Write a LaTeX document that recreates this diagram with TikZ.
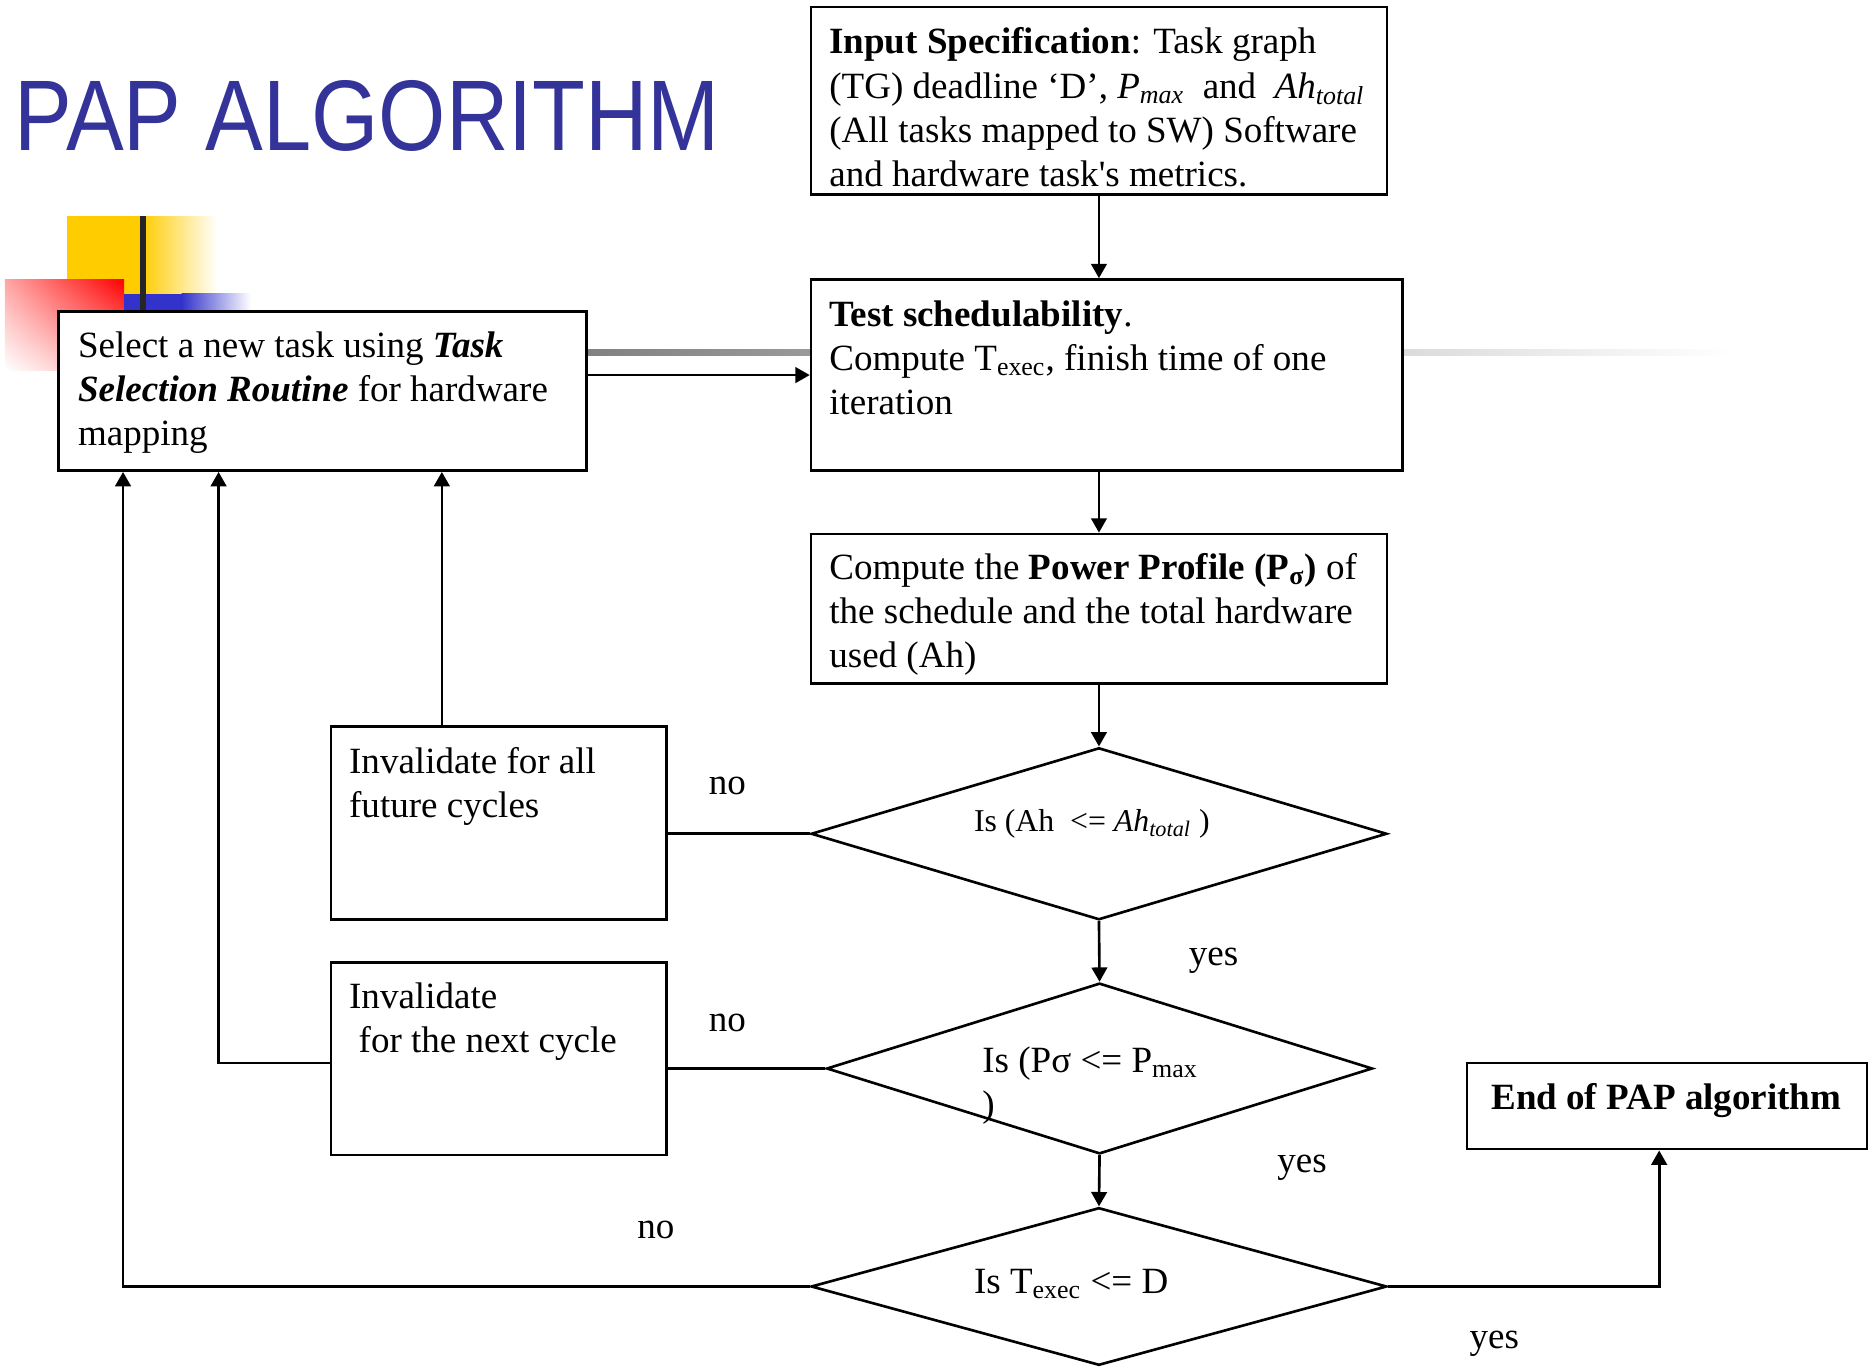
\documentclass[tikz,border=0pt]{standalone}
\usepackage{graphicx}
\usepackage{fontspec}
\setmainfont{Liberation Serif}
\newfontfamily\titlefont{Liberation Sans}
\usetikzlibrary{arrows.meta,shapes.geometric,calc,shadings}
\definecolor{titleblue}{RGB}{51,51,153}
\definecolor{decoyellow}{RGB}{255,204,0}
\definecolor{decoblue}{RGB}{51,51,204}
\tikzset{
  box/.style={draw, rectangle, line width=1.1pt, fill=white, inner sep=0pt},
  dia/.style={draw, diamond, line width=1.1pt, fill=white, inner sep=0pt},
  txt/.style={anchor=north west, inner sep=0pt, align=left},
  lbl/.style={inner sep=0pt},
  conn/.style={line width=1.1pt},
  arr/.style={line width=1.1pt, -{Triangle[length=6pt,width=6.5pt]}}
}
\begin{document}
\begin{tikzpicture}[x=0.5pt, y=-0.5pt, font=\fontsize{15.5}{18.5}\selectfont]
\useasboundingbox (0,0) rectangle (1568,1144);

% slide decoration
\fill[decoyellow] (56,181) rectangle (118,246);
\shade[left color=decoyellow, right color=white] (118,181) rectangle (182,246);
\shade[upper right=red, upper left=red!35, lower right=red!35, lower left=white] (4,234) rectangle (104,310);
\fill[decoblue] (104,246) rectangle (152,261);
\shade[left color=decoblue, right color=white] (152,246) rectangle (210,261);
\fill[black!85] (117,181) rectangle (122,261);
\shade[left color=black!50, right color=white] (480,293) rectangle (1450,298);

% title
\node[anchor=base west, inner sep=0pt, text=titleblue, font=\titlefont\fontsize{42}{50}\selectfont] (title) at (12,126) {\scalebox{0.8625}[1]{PAP ALGORITHM}};

% boxes
\node[box, minimum width=241pt, minimum height=78.5pt] (inp) at (920,84.5) {};
\node[box, minimum width=247.5pt, minimum height=80pt] (test) at (926.5,314) {};
\node[box, minimum width=241pt, minimum height=62.5pt] (pow) at (920,509.5) {};
\node[box, minimum width=221pt, minimum height=66.5pt] (sel) at (270,327.5) {};
\node[box, minimum width=140.5pt, minimum height=81pt] (invall) at (417.5,689) {};
\node[box, minimum width=140.5pt, minimum height=80.5pt] (invnext) at (417.5,886.5) {};
\node[box, minimum width=167.5pt, minimum height=36pt] (endbox) at (1395.5,926) {};

% diamonds
\node[dia, minimum width=241pt, minimum height=72pt] (d1) at (920,698) {};
\node[dia, minimum width=228.5pt, minimum height=71.5pt] (d2) at (920.5,894.5) {};
\node[dia, minimum width=241pt, minimum height=66pt] (d3) at (920,1077) {};

% box texts
\node[txt] (tinp) at ($(inp.north west)+(16,14)$) {\strut\textbf{Input Specification}: Task graph\\
(TG) deadline ‘D’, \textit{P}\textsubscript{\textit{max}}~ and~ \textit{Ah}\textsubscript{\textit{total}}\\
(All tasks mapped to SW) Software\\
and hardware task\textquotesingle s metrics.};
\node[txt] (ttest) at ($(test.north west)+(16,14)$) {\strut\textbf{Test schedulability}.\\
Compute T\textsubscript{exec}, finish time of one\\
iteration};
\node[txt] (tpow) at ($(pow.north west)+(16,13)$) {\strut Compute the \textbf{Power Profile (P\textsubscript{σ})} of\\
the schedule and the total hardware\\
used (Ah)};
\node[txt] (tsel) at ($(sel.north west)+(17,13)$) {\strut Select a new task using \textbf{\textit{Task}}\\
\textbf{\textit{Selection Routine}} for hardware\\
mapping};
\node[txt] (tinvall) at ($(invall.north west)+(16,14)$) {\strut Invalidate for all\\
future cycles};
\node[txt] (tinvnext) at ($(invnext.north west)+(16,13)$) {\strut Invalidate\\
\hspace*{4pt}for the next cycle};
\node[anchor=base, inner sep=0pt] (tend) at (1395,929) {\textbf{End of PAP algorithm}};

% diamond texts
\node[anchor=base west, inner sep=0pt, font=\fontsize{13.3}{16}\selectfont] (td1) at (815,696) {Is (Ah\ \ <= \textit{Ah}\textsubscript{\textit{total}} )};
\node[anchor=base west, inner sep=0pt] (td2) at (822,898) {Is (Pσ <= P\textsubscript{max}};
\node[anchor=base west, inner sep=0pt] (td2b) at (822,935) {)};
\node[anchor=base west, inner sep=0pt] (td3) at (815,1083) {Is T\textsubscript{exec} <= D};

% connectors
\draw[arr] (inp.south) -- (inp.south |- test.north);
\draw[arr] (pow.north |- test.south) -- (pow.north);
\draw[arr] (pow.south) -- (d1.north);
\draw[arr] (d1.south) -- (d2.north);
\draw[arr] (d2.south) -- (d3.north);
\draw[arr] (test.west -| sel.east) -- (test.west);
\draw[conn] (d1.west) -- (d1.west -| invall.east);
\draw[conn] (d2.west) -- (d2.west -| invnext.east);
\coordinate (c1) at ($(invall.north west)+(94,0)$);
\draw[arr] (c1) -- (c1 |- sel.south);
\coordinate (c2) at (183,890);
\draw[arr] (c2 -| invnext.west) -- (c2) -- (c2 |- sel.south);
\coordinate (c3) at (103,1077);
\draw[arr] (d3.west) -- (c3) -- (c3 |- sel.south);
\coordinate (c4) at ($(endbox.south)+(-6.5,0)$);
\draw[arr] (d3.east) -| (c4);

% labels
\node[lbl] (no1) at (609,658) {no};
\node[lbl] (no2) at (609,856) {no};
\node[lbl] (no3) at (549,1030) {no};
\node[lbl] (yes1) at (1016,804) {yes};
\node[lbl] (yes2) at (1090,978) {yes};
\node[lbl] (yes3) at (1251,1125) {yes};
\end{tikzpicture}
\end{document}
